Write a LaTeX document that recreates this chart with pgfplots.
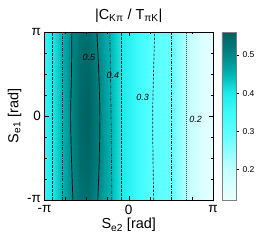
\documentclass[border=0pt]{standalone}
\usepackage{fontspec}
\setmainfont{Liberation Sans}
\usepackage{pgfplots}
\pgfplotsset{compat=1.18}
\begin{document}
\begin{tikzpicture}
\useasboundingbox (-44.5pt,-45pt) rectangle (216.5pt,200pt);
\begin{axis}[
  at={(0,0)}, anchor=south west,
  scale only axis, width=168.5pt, height=168pt,
  xmin=-1, xmax=1, ymin=-1, ymax=1,
  xtick={-1,0,1}, xticklabels={-π,0,π},
  ytick={-1,0,1}, yticklabels={\raisebox{3pt}{-π},0,π},
  minor xtick={-0.75,-0.5,-0.25,0.25,0.5,0.75},
  minor ytick={-0.75,-0.5,-0.25,0.25,0.5,0.75},
  tick align=inside,
  major tick length=4pt, minor tick length=2.5pt,
  tick style={black, line width=0.5pt},
  tick label style={font=\fontsize{13.5}{13.5}\selectfont},
  xticklabel style={yshift=-1.5pt},
  xlabel={S\textsubscript{e2} [rad]},
  ylabel={S\textsubscript{e1} [rad]},
  label style={font=\fontsize{14.5}{14.5}\selectfont},
  xlabel style={yshift=3pt},
  ylabel style={yshift=-1pt},
  title={|C\textsubscript{Kπ} / T\textsubscript{πK}|},
  title style={font=\fontsize{14.5}{14.5}\selectfont, yshift=0pt},
  axis on top,
  colormap={tealcm}{rgb255(0cm)=(235,255,255) rgb255(0.8cm)=(195,255,255) rgb255(1.3cm)=(140,255,255) rgb255(1.8cm)=(90,255,255) rgb255(2.3cm)=(60,250,250) rgb255(2.8cm)=(30,235,235) rgb255(3.3cm)=(0,180,180) rgb255(3.8cm)=(0,135,135) rgb255(4.4cm)=(0,95,95)},
  point meta min=0.12, point meta max=0.56,
  colorbar right,
  colorbar shift/.style={xshift=1pt},
  colorbar style={width=14pt,
    ytick={0.2,0.3,0.4,0.5}, yticklabels={0.2,0.3,0.4,0.5},
    yticklabel style={font=\fontsize{8.5}{9}\selectfont},
    tick align=outside, ytick pos=right, major tick length=3pt,
    axis line style={gray, line width=0.8pt}, tick style={black, line width=0.4pt}},
]
\addplot[surf, shader=interp, point meta=\thisrow{z}] table {
x y z
-1 -1 0.37
-0.911 -1 0.40
-0.793 -1 0.45
-0.675 -1 0.50
-0.58 -1 0.53
-0.485 -1 0.535
-0.379 -1 0.50
-0.296 -1 0.47
-0.225 -1 0.45
-0.083 -1 0.40
0.095 -1 0.35
0.284 -1 0.30
0.509 -1 0.29
0.6 -1 0.25
0.686 -1 0.21
0.84 -1 0.16
1 -1 0.13

-1 -0.5 0.37
-0.911 -0.5 0.40
-0.793 -0.5 0.45
-0.675 -0.5 0.503
-0.58 -0.5 0.54
-0.485 -0.5 0.55
-0.379 -0.5 0.515
-0.296 -0.5 0.478
-0.225 -0.5 0.452
-0.083 -0.5 0.40
0.095 -0.5 0.35
0.284 -0.5 0.30
0.509 -0.5 0.29
0.6 -0.5 0.25
0.686 -0.5 0.21
0.84 -0.5 0.16
1 -0.5 0.13

-1 0 0.37
-0.911 0 0.40
-0.793 0 0.45
-0.675 0 0.505
-0.58 0 0.545
-0.485 0 0.556
-0.379 0 0.52
-0.296 0 0.48
-0.225 0 0.455
-0.083 0 0.40
0.095 0 0.35
0.284 0 0.30
0.509 0 0.29
0.6 0 0.25
0.686 0 0.21
0.84 0 0.16
1 0 0.13

-1 0.5 0.37
-0.911 0.5 0.40
-0.793 0.5 0.45
-0.675 0.5 0.503
-0.58 0.5 0.54
-0.485 0.5 0.55
-0.379 0.5 0.515
-0.296 0.5 0.478
-0.225 0.5 0.452
-0.083 0.5 0.40
0.095 0.5 0.35
0.284 0.5 0.30
0.509 0.5 0.29
0.6 0.5 0.25
0.686 0.5 0.21
0.84 0.5 0.16
1 0.5 0.13

-1 1 0.37
-0.911 1 0.40
-0.793 1 0.45
-0.675 1 0.50
-0.58 1 0.53
-0.485 1 0.535
-0.379 1 0.50
-0.296 1 0.47
-0.225 1 0.45
-0.083 1 0.40
0.095 1 0.35
0.284 1 0.30
0.509 1 0.29
0.6 1 0.25
0.686 1 0.21
0.84 1 0.16
1 1 0.13
};
% contour lines
\addplot[black!85, line width=0.7pt, dash pattern=on 2.5pt off 1.5pt] coordinates {(-0.911,-1) (-0.911,1)};
\addplot[black!85, line width=0.7pt, dash pattern=on 3pt off 1.2pt on 0.8pt off 1.2pt] coordinates {(-0.793,-1) (-0.793,1)};
\addplot[black, line width=0.7pt, smooth] coordinates {(-0.663,-1) (-0.68,-0.5) (-0.69,0) (-0.68,0.5) (-0.675,1)};
\addplot[black, line width=0.7pt, smooth] coordinates {(-0.367,-1) (-0.35,-0.5) (-0.343,0) (-0.355,0.5) (-0.379,1)};
\addplot[black!85, line width=0.7pt, smooth, dash pattern=on 3pt off 1.2pt on 0.8pt off 1.2pt] coordinates {(-0.201,-1) (-0.21,0) (-0.225,1)};
\addplot[black!85, line width=0.7pt, dash pattern=on 2.5pt off 1.5pt] coordinates {(-0.083,-1) (-0.083,1)};
\addplot[black!85, line width=0.7pt, smooth, dash pattern=on 2.5pt off 1.5pt] coordinates {(0.296,-1) (0.284,0) (0.308,1)};
\addplot[black!85, line width=0.7pt, dash pattern=on 3pt off 1.2pt on 0.8pt off 1.2pt] coordinates {(0.509,-1) (0.509,1)};
\addplot[black!70, line width=0.7pt, dash pattern=on 0.8pt off 1.2pt] coordinates {(0.686,-1) (0.686,1)};
\node[font=\fontsize{9}{9}\selectfont\itshape] at (axis cs:-0.473,0.698) {0.5};
\node[font=\fontsize{9}{9}\selectfont\itshape] at (axis cs:-0.189,0.485) {0.4};
\node[font=\fontsize{9}{9}\selectfont\itshape] at (axis cs:0.166,0.225) {0.3};
\node[font=\fontsize{9}{9}\selectfont\itshape] at (axis cs:0.793,-0.036) {0.2};
\end{axis}
\end{tikzpicture}
\end{document}
